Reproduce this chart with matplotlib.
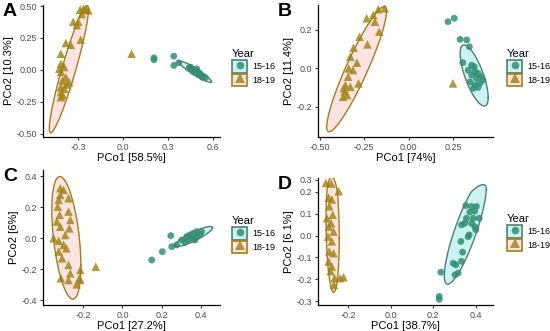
import numpy as np
import matplotlib
matplotlib.use("Agg")
import matplotlib.pyplot as plt
from matplotlib.patches import Rectangle
from matplotlib.lines import Line2D
from matplotlib.legend_handler import HandlerTuple
from matplotlib.ticker import FixedLocator, FixedFormatter

plt.rcParams['font.family'] = ['Liberation Sans', 'DejaVu Sans']
plt.rcParams['axes.unicode_minus'] = False

groups = ["15-16", "18-19"]

# ---------------- Panel A ----------------
a_x_1516 = [0.206, 0.206, 0.338, 0.338, 0.371, 0.449, 0.48, 0.50, 0.515, 0.526, 0.548, 0.49, 0.47, 0.50, 0.51, 0.46, 0.44, 0.53]
a_y_1516 = [0.094, 0.079, 0.107, 0.034, 0.055, 0.021, -0.005, -0.018, -0.045, -0.058, -0.063, 0.008, -0.018, -0.037, -0.03, 0.0, 0.015, -0.05]
a_x_1819 = [0.057, -0.285, -0.263, -0.245, -0.23, -0.274, -0.331, -0.298, -0.307, -0.281, -0.38, -0.347, -0.413, -0.413, -0.39, -0.413, -0.38, -0.358, -0.413, -0.39, -0.413, -0.413, -0.40, -0.376, -0.424, -0.402]
a_y_1819 = [0.126, 0.471, 0.479, 0.473, 0.466, 0.437, 0.376, 0.376, 0.35, 0.236, 0.21, 0.196, 0.126, 0.047, 0.021, -0.018, -0.058, -0.097, -0.136, -0.149, -0.175, -0.215, -0.20, -0.115, 0.008, -0.084]
# ellipse: centre x, centre y, half-range x, half-range y, correlation
a_ell_1516 = [0.48, -0.015, 0.108, 0.083, -0.93]
a_ell_1819 = [-0.36, 0.005, 0.13, 0.50, 0.93]

# ---------------- Panel B ----------------
b_x_1516 = [0.221, 0.256, 0.289, 0.326, 0.341, 0.304, 0.369, 0.372, 0.354, 0.381, 0.409, 0.345, 0.372, 0.39, 0.363, 0.40, 0.418, 0.335, 0.354, 0.39]
b_y_1516 = [0.243, 0.261, 0.151, 0.148, 0.113, 0.030, 0.009, -0.017, -0.035, -0.052, -0.043, -0.070, -0.087, -0.099, -0.104, -0.078, -0.061, -0.009, 0.017, -0.026]
b_x_1819 = [0.249, -0.236, -0.199, -0.171, -0.135, -0.19, -0.166, -0.276, -0.232, -0.31, -0.328, -0.291, -0.337, -0.313, -0.341, -0.356, -0.365, -0.369, -0.346, -0.282, -0.328, -0.36]
b_y_1819 = [-0.078, 0.261, 0.278, 0.308, 0.313, 0.243, 0.191, 0.165, 0.125, 0.108, 0.061, 0.030, 0.0, -0.009, -0.043, -0.087, -0.104, -0.148, -0.139, -0.078, -0.096, -0.12]
b_ell_1516 = [0.368, -0.037, 0.079, 0.159, -0.72]
b_ell_1819 = [-0.293, -0.004, 0.168, 0.326, 0.92]

# ---------------- Panel C ----------------
c_x_1516 = [0.149, 0.203, 0.246, 0.251, 0.276, 0.302, 0.327, 0.344, 0.361, 0.378, 0.395, 0.353, 0.378, 0.403, 0.336, 0.319, 0.369]
c_y_1516 = [-0.140, -0.086, 0.017, -0.054, -0.043, -0.011, 0.011, 0.022, 0.032, 0.043, 0.022, 0.0, 0.011, 0.043, -0.011, -0.026, -0.011]
c_x_1819 = [-0.136, -0.317, -0.30, -0.275, -0.325, -0.33, -0.32, -0.275, -0.266, -0.334, -0.317, -0.271, -0.351, -0.325, -0.30, -0.286, -0.325, -0.308, -0.275, -0.215, -0.266, -0.314, -0.275, -0.22, -0.215, -0.234, -0.292, -0.317]
c_y_1819 = [-0.183, 0.323, 0.312, 0.258, 0.247, 0.204, 0.151, 0.172, 0.118, 0.108, 0.075, 0.064, 0.0, -0.017, -0.043, -0.065, -0.086, -0.129, -0.172, -0.204, -0.226, -0.258, -0.269, -0.258, -0.269, -0.297, 0.021, 0.28]
c_ell_1516 = [0.363, 0.011, 0.096, 0.065, 0.88]
c_ell_1819 = [-0.286, 0.003, 0.074, 0.395, -0.45]

# ---------------- Panel D ----------------
d_x_1516 = [0.236, 0.228, 0.228, 0.294, 0.306, 0.317, 0.302, 0.333, 0.338, 0.33, 0.333, 0.356, 0.353, 0.38, 0.403, 0.388, 0.416, 0.395, 0.369, 0.364, 0.40, 0.38, 0.348, 0.372, 0.395]
d_y_1516 = [-0.168, -0.279, -0.292, -0.127, -0.134, -0.172, -0.18, -0.118, -0.076, -0.027, 0.049, 0.079, 0.137, 0.133, 0.133, 0.079, 0.079, 0.041, 0.003, -0.005, 0.026, 0.056, 0.056, 0.107, 0.111]
d_x_1819 = [-0.305, -0.28, -0.245, -0.292, -0.277, -0.289, -0.30, -0.28, -0.292, -0.269, -0.295, -0.277, -0.289, -0.269, -0.292, -0.277, -0.264, -0.238, -0.222, -0.267, -0.283, -0.273]
d_y_1819 = [0.273, 0.268, 0.205, 0.173, 0.165, 0.134, 0.079, 0.056, 0.041, 0.018, -0.005, -0.027, -0.073, -0.081, -0.119, -0.142, -0.195, -0.195, -0.191, -0.226, -0.163, 0.095]
d_ell_1516 = [0.351, 0.018, 0.099, 0.241, 0.84]
d_ell_1819 = [-0.273, 0.03, 0.031, 0.29, -0.15]

# axis texts / ticks
a_xticks = [-0.3, 0.0, 0.3, 0.6]
a_xlabels = ["-0.3", "0.0", "0.3", "0.6"]
a_yticks = [-0.5, -0.25, 0.0, 0.25, 0.5]
a_ylabels = ["-0.50", "-0.25", "0.00", "0.25", "0.50"]
b_xticks = [-0.5, -0.25, 0.0, 0.25]
b_xlabels = ["-0.50", "-0.25", "0.00", "0.25"]
b_yticks = [-0.2, 0.0, 0.2]
b_ylabels = ["-0.2", "0.0", "0.2"]
c_xticks = [-0.2, 0.0, 0.2, 0.4]
c_xlabels = ["-0.2", "0.0", "0.2", "0.4"]
c_yticks = [-0.4, -0.2, 0.0, 0.2, 0.4]
c_ylabels = ["-0.4", "-0.2", "0.0", "0.2", "0.4"]
d_xticks = [-0.2, 0.0, 0.2, 0.4]
d_xlabels = ["-0.2", "0.0", "0.2", "0.4"]
d_yticks = [-0.3, -0.2, -0.1, 0.0, 0.1, 0.2, 0.3]
d_ylabels = ["-0.3", "-0.2", "-0.1", "0.0", "0.1", "0.2", "0.3"]

# styles
pt_colors = ["#2f8f74", "#a3861a"]
edge_colors = ["#4d8072", "#a57c1c"]
fill_colors = ["#00BFC4", "#F8766D"]
key_fill = ["#ccf2f3", "#fee4e2"]
markers = ["o", "^"]
sizes = [24, 38]

fig = plt.figure(figsize=(5.5, 3.31), dpi=100)
W, H = 550.0, 331.0

def add_ax(l, r, t, b):
    return fig.add_axes([l / W, 1 - b / H, (r - l) / W, (b - t) / H])

def ellipse(ax, p, fc, ec):
    cx, cy, sx, sy, rho = p
    t = np.linspace(0, 2 * np.pi, 300)
    x = cx + sx * np.cos(t)
    y = cy + sy * (rho * np.cos(t) + np.sqrt(1 - rho ** 2) * np.sin(t))
    ax.fill(x, y, facecolor=fc, alpha=0.2, edgecolor="none", zorder=1)
    ax.plot(x, y, color=ec, lw=1.0, zorder=4)

def panel(ax, letter, xs, ys, ells, xlim, ylim, xt, xtl, yt, ytl, xlab, ylab, leg_xy):
    for i in range(2):
        ellipse(ax, ells[i], fill_colors[i], edge_colors[i])
        ax.scatter(xs[i], ys[i], s=sizes[i], marker=markers[i], c=pt_colors[i],
                   alpha=0.85, edgecolors="none", zorder=3)
    ax.set_xlim(*xlim)
    ax.set_ylim(*ylim)
    ax.xaxis.set_major_locator(FixedLocator(xt))
    ax.xaxis.set_major_formatter(FixedFormatter(xtl))
    ax.yaxis.set_major_locator(FixedLocator(yt))
    ax.yaxis.set_major_formatter(FixedFormatter(ytl))
    for s in ["top", "right"]:
        ax.spines[s].set_visible(False)
    for s in ["left", "bottom"]:
        ax.spines[s].set_linewidth(0.9)
        ax.spines[s].set_color("black")
    ax.tick_params(length=2.5, width=0.8, color="#333333", labelsize=6.5,
                   labelcolor="#4d4d4d", pad=1.5)
    ax.set_xlabel(xlab, fontsize=8, labelpad=1)
    ax.set_ylabel(ylab, fontsize=8, labelpad=2)
    ax.patch.set_alpha(0)
    handles = []
    for i in range(2):
        rect = Rectangle((0, 0), 1, 1, facecolor=key_fill[i], edgecolor=edge_colors[i], lw=1.2)
        m = Line2D([], [], ls="none", marker=markers[i], color=pt_colors[i],
                   markersize=5.5 if i == 0 else 6.5, alpha=0.85, markeredgewidth=0)
        handles.append((rect, m))
    ax.legend(handles, groups, title="Year", loc="upper left",
              bbox_to_anchor=(leg_xy[0] / W, 1 - leg_xy[1] / H),
              bbox_transform=fig.transFigure, frameon=False,
              handler_map={tuple: HandlerTuple(ndivide=1, pad=0)},
              fontsize=6.5, title_fontsize=8, handlelength=1.7,
              handleheight=1.7, handletextpad=0.6, labelspacing=0.15,
              borderpad=0, borderaxespad=0, alignment="left")
    fig.text(ax.get_position().x0 - 40 / W, ax.get_position().y1 + 2 / H, letter,
             fontsize=14, fontweight="bold", ha="left", va="top")

axA = add_ax(43, 220, 5, 137)
panel(axA, "A", [a_x_1516, a_x_1819], [a_y_1516, a_y_1819], [a_ell_1516, a_ell_1819],
      (-0.532, 0.645), (-0.527, 0.508), a_xticks, a_xlabels, a_yticks, a_ylabels,
      "PCo1 [58.5%]", "PCo2 [10.3%]", (232, 49))

axB = add_ax(318, 493, 5, 137)
panel(axB, "B", [b_x_1516, b_x_1819], [b_y_1516, b_y_1819], [b_ell_1516, b_ell_1819],
      (-0.51, 0.474), (-0.357, 0.33), b_xticks, b_xlabels, b_yticks, b_ylabels,
      "PCo1 [74%]", "PCo2 [11.4%]", (507, 49))

axC = add_ax(43, 220, 170, 305)
panel(axC, "C", [c_x_1516, c_x_1819], [c_y_1516, c_y_1819], [c_ell_1516, c_ell_1819],
      (-0.405, 0.497), (-0.43, 0.44), c_xticks, c_xlabels, c_yticks, c_ylabels,
      "PCo1 [27.2%]", "PCo2 [6%]", (232, 216))

# panel D: upper part above 0.2 is compressed in the reference
def fwd(y):
    y = np.asarray(y, dtype=float)
    return np.where(y > 0.2, 0.2 + (y - 0.2) * 0.56, y)

def inv(y):
    y = np.asarray(y, dtype=float)
    return np.where(y > 0.2, 0.2 + (y - 0.2) / 0.56, y)

axD = add_ax(318, 493, 178, 305)
axD.set_yscale("function", functions=(fwd, inv))
panel(axD, "D", [d_x_1516, d_x_1819], [d_y_1516, d_y_1819], [d_ell_1516, d_ell_1819],
      (-0.342, 0.481), (-0.318, 0.313), d_xticks, d_xlabels, d_yticks, d_ylabels,
      "PCo1 [38.7%]", "PCo2 [6.1%]", (507, 214))

fig.savefig("out.png", dpi=100)
